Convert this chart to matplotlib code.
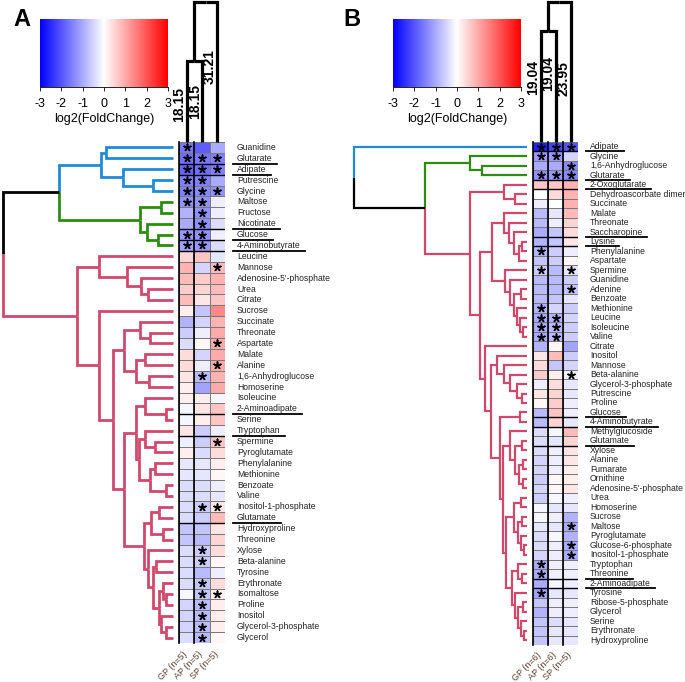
import numpy as np
import matplotlib.pyplot as plt
from matplotlib.colors import LinearSegmentedColormap

plt.rcParams['font.family'] = ['Liberation Sans', 'DejaVu Sans']
plt.rcParams['axes.unicode_minus'] = False

W, H = 685, 682

# ---------------- data: panel A ----------------
cols_a = ['GP (n=5)', 'AP (n=5)', 'SP (n=5)']
rows_a = ['Guanidine', 'Glutarate', 'Adipate', 'Putrescine', 'Glycine', 'Maltose',
          'Fructose', 'Nicotinate', 'Glucose', '4-Aminobutyrate', 'Leucine', 'Mannose',
          "Adenosine-5'-phosphate", 'Urea', 'Citrate', 'Sucrose', 'Succinate', 'Threonate',
          'Aspartate', 'Malate', 'Alanine', '1,6-Anhydroglucose', 'Homoserine', 'Isoleucine',
          '2-Aminoadipate', 'Serine', 'Tryptophan', 'Spermine', 'Pyroglutamate',
          'Phenylalanine', 'Methionine', 'Benzoate', 'Valine', 'Inositol-1-phosphate',
          'Glutamate', 'Hydroxyproline', 'Threonine', 'Xylose', 'Beta-alanine', 'Tyrosine',
          'Erythronate', 'Isomaltose', 'Proline', 'Inositol', 'Glycerol-3-phosphate', 'Glycerol']
gp_a = [-1.6, -1.7, -1.8, -1.5, -1.5, -1.3, -0.9, -1.0, -1.2, -1.1, 0.5, 0.9, 0.8, 0.6, 0.8,
        0.2, -0.9, -0.6, -0.4, 0.4, 0.4, 0.3, 0.2, 0.2, -0.1, -0.1, 0.3, -0.2, 0.2, -0.3, -0.3,
        -0.4, -0.4, -0.4, -0.4, -0.7, -0.7, -0.4, -0.4, -0.4, -0.4, -0.1, -0.5, -0.5, -0.5, -0.4]
ap_a = [-1.9, -1.6, -1.7, -1.5, -1.4, -1.3, -1.3, -1.3, -1.3, -1.2, 0.7, -0.5, 0.6, 0.5, 0.3,
        -0.7, -0.5, -0.2, 0.1, -0.5, -0.2, -0.8, -1.1, 0.2, 0.3, 0.2, -0.6, -0.6, -0.4, -0.3,
        -0.3, -0.4, -0.4, -0.6, -0.6, -0.7, -0.8, -0.6, -0.6, -0.8, -0.7, -0.7, -0.8, -0.8,
        -0.8, -0.8]
sp_a = [-1.0, -1.5, -1.5, -1.0, -1.3, -0.2, -0.2, -0.4, -0.2, -0.4, -0.3, 0.8, 0.9, 0.8, 0.7,
        1.4, 0.9, 1.0, 1.0, 1.0, 1.0, 0.9, 1.0, -0.1, 0.7, 0.7, -0.2, 0.7, 0.4, 0.2, 0.1, -0.2,
        -0.3, 0.3, 0.8, 0.3, 0.5, 0.4, 0.1, -0.2, 0.4, 0.2, 0.2, 0.2, 0.2, 0.1]
# significance stars: GP, AP, SP
sig_a = ['100', '111', '111', '110', '111', '110', '010', '010', '110', '110', '000', '001',
         '000', '000', '000', '000', '000', '000', '001', '000', '001', '010', '000', '000',
         '000', '000', '000', '001', '000', '000', '000', '000', '000', '011', '000', '000',
         '000', '010', '010', '000', '010', '011', '010', '010', '010', '010']
under_a = ['Glutarate', 'Adipate', 'Nicotinate', 'Glucose', '4-Aminobutyrate',
           '2-Aminoadipate', 'Tryptophan', 'Glutamate']
group_a = ['blue'] * 5 + ['green'] * 5 + ['pink'] * 36
# row tree: [left, right, height], leaves are 1-based row numbers
tree_a = [[[[1, 2, 67], [3, [4, 5, 20], 50], 72],
           [[6, 7, 12], [8, [9, 10, 15], 26], 33], 114],
          [[11, [12, [13, [14, 15, 25], 32], 46], 74],
           [16, [[[17, [18, 19, 23], 33], [[20, 21, 28], [22, 23, 24], 37], 49],
                 [[[24, [25, 26, 7], 28],
                   [[27, [28, 29, 18], 28], [[30, 31, 18], [32, 33, 7], 23], 34], 37],
                  [[[34, 35, 14], [36, 37, 10], 22],
                   [38, [[39, 40, 17], [[41, [42, 43, 7], 10], [44, [45, 46, 7], 12], 14], 20],
                    25], 29], 49], 60], 74], 96], 170]
col_tree_a = [[1, 2, 18.15], 3, 31.21]
col_lab_a = ['18.15', '18.15', '31.21']

# ---------------- data: panel B ----------------
cols_b = ['GP (n=6)', 'AP (n=6)', 'SP (n=5)']
rows_b = ['Adipate', 'Glycine', '1,6-Anhydroglucose', 'Glutarate', '2-Oxoglutarate',
          'Dehydroascorbate dimer', 'Succinate', 'Malate', 'Threonate', 'Saccharopine',
          'Lysine', 'Phenylalanine', 'Aspartate', 'Spermine', 'Guanidine', 'Adenine',
          'Benzoate', 'Methionine', 'Leucine', 'Isoleucine', 'Valine', 'Citrate', 'Inositol',
          'Mannose', 'Beta-alanine', 'Glycerol-3-phosphate', 'Putrescine', 'Proline',
          'Glucose', '4-Aminobutyrate', 'Methylglucoside', 'Glutamate', 'Xylose', 'Alanine',
          'Fumarate', 'Ornithine', "Adenosine-5'-phosphate", 'Urea', 'Homoserine', 'Sucrose',
          'Maltose', 'Pyroglutamate', 'Glucose-6-phosphate', 'Inositol-1-phosphate',
          'Tryptophan', 'Threonine', '2-Aminoadipate', 'Tyrosine', 'Ribose-5-phosphate',
          'Glycerol', 'Serine', 'Erythronate', 'Hydroxyproline']
gp_b = [-2.6, -1.2, -1.0, -1.3, 0.7, 0.0, -0.2, -0.8, -0.8, -1.0, -0.9, -0.9, -0.7, -0.6,
        -0.8, -0.8, -0.8, -0.9, -1.0, -1.0, -1.0, -0.9, 0.3, 0.4, 0.6, -0.2, 0.3, 0.1, -0.8,
        -0.8, -0.4, -0.4, -0.4, -0.5, -0.5, -0.6, -0.5, -0.6, -0.1, -0.1, -0.3, -0.4, -0.4,
        -0.5, -1.0, -1.0, -1.0, -1.1, -0.7, -0.9, -0.7, -0.7, -0.7]
ap_b = [-2.2, -1.2, -1.0, -1.2, 0.7, 0.4, 0.0, -0.3, -0.2, -0.7, -0.7, -0.6, -0.6, -0.8,
        -0.8, -0.8, -0.7, -0.5, -0.9, -0.8, -0.8, 0.1, 0.8, -0.7, 0.2, 0.4, 0.5, 0.6, 0.7,
        0.5, -0.1, -0.3, -0.2, -0.2, -0.2, 0.1, 0.1, -0.1, -0.3, -0.2, -0.3, -0.1, -0.2, -0.2,
        -0.2, -0.2, -0.1, -0.3, -0.2, -0.2, -0.4, -0.3, -0.3]
sp_b = [-2.0, -0.5, -1.4, -1.4, 0.9, 0.9, 0.9, 0.8, 0.5, 0.4, 0.3, -0.2, 0.1, -0.3, -0.6,
        -0.7, -0.3, -0.6, -0.5, -0.6, -0.6, -1.1, -0.6, -0.5, -0.2, -0.3, -0.3, -0.2, -0.2,
        -0.3, 0.8, 0.5, 0.3, 0.3, 0.2, 0.2, 0.3, -0.2, -0.3, -0.9, -1.0, -0.9, -1.0, -1.0,
        -0.2, -0.2, -0.2, -0.3, -0.2, -0.2, -0.3, -0.3, -0.3]
sig_b = ['111', '110', '001', '111', '000', '000', '000', '000', '000', '000', '000', '100',
         '000', '101', '000', '001', '000', '100', '110', '110', '110', '000', '000', '000',
         '001', '000', '000', '000', '000', '000', '000', '000', '000', '000', '000', '000',
         '000', '000', '000', '000', '001', '000', '001', '001', '100', '100', '000', '100',
         '000', '000', '000', '000', '000']
under_b = ['Adipate', 'Glutarate', '2-Oxoglutarate', 'Saccharopine', 'Lysine', 'Glucose',
           '4-Aminobutyrate', 'Glutamate', 'Threonine', '2-Aminoadipate']
group_b = ['blue'] + ['green'] * 3 + ['pink'] * 49
tree_b = [1, [[2, [3, 4, 44], 56],
              [[5, [6, 7, 12], 23],
               [[[8, [9, [10, [[11, 12, 5], 13, 8], 13], 18], 23],
                 [14, [15, [[16, 17, 6], [18, [19, [20, 21, 4], 7], 10], 13], 17], 22], 35],
                [22, [[23, [24, [25, [26, [27, 28, 5], 10], 17], 23], 30],
                      [[29, 30, 7],
                       [[31, [[32, 33, 5], [[34, 35, 4], [36, 37, 4], 8], 12], 17],
                        [[[38, 39, 6], [[40, 41, 5], [42, [43, 44, 3], 6], 9], 13],
                         [[45, [46, 47, 5], 9],
                          [48, [[49, 50, 4], [51, [52, 53, 3], 6], 9], 12], 15], 21], 24],
                       27], 36], 42], 46], 56], 101], 171]
col_tree_b = [[1, 2, 19.04], 3, 23.95]
col_lab_b = ['19.04', '19.04', '23.95']

# ---------------- drawing ----------------
branch_colors = {'blue': '#1f8ad8', 'green': '#2b8c10', 'pink': '#d0496d', 'black': 'black'}
cmap = LinearSegmentedColormap.from_list('bwr_r', ['#0000ff', '#ffffff', '#ff0000'])

fig = plt.figure(figsize=(W / 100, H / 100), dpi=100)


def px_axes(x0, y0, x1, y1):
    return fig.add_axes([x0 / W, 1 - y1 / H, (x1 - x0) / W, (y1 - y0) / H])


def draw_tree(ax, node, groups, lw, horizontal=True):
    if isinstance(node, int):
        return node - 0.5, 0.0, branch_colors[groups[node - 1]]
    left, right, h = node
    yl, hl, cl = draw_tree(ax, left, groups, lw, horizontal)
    yr, hr, cr = draw_tree(ax, right, groups, lw, horizontal)
    y = (yl + yr) / 2
    for yc, hc, cc in ((yl, hl, cl), (yr, hr, cr)):
        xs, ys = [h, h, hc], [y, yc, yc]
        if not horizontal:
            xs, ys = ys, xs
        ax.plot(xs, ys, color=cc, lw=lw, solid_capstyle='butt',
                solid_joinstyle='miter', clip_on=False)
    return y, h, (cl if cl == cr else 'black')


def panel(letter, lx, cb_x, dx0, hx0, hx1, top, bottom, rows, gp, ap, sp, sig, under,
          groups, tree, hmax, col_tree, col_lab, lab_y, cols, tree_lw, dark_cols):
    n = len(rows)
    vals = np.column_stack([gp, ap, sp])

    fig.text(lx / W, 1 - 8 / H, letter, fontsize=17, fontweight='bold', va='top')

    # colour key
    cax = px_axes(cb_x, 19, cb_x + 128, 87)
    cax.imshow(np.linspace(-3, 3, 256)[None, :], extent=(-3, 3, 0, 1), aspect='auto',
               cmap=cmap, vmin=-3, vmax=3)
    for s in ('top', 'left', 'right'):
        cax.spines[s].set_visible(False)
    cax.spines['bottom'].set_linewidth(0.6)
    cax.set_yticks([])
    cax.set_xticks(range(-3, 4))
    cax.tick_params(axis='x', length=3, width=0.6, labelsize=9, pad=5)
    cax.set_xlabel('log2(FoldChange)', fontsize=9, labelpad=2)

    # row dendrogram
    dax = px_axes(dx0, top, hx0 - 6, bottom)
    draw_tree(dax, tree, groups, tree_lw)
    dax.set_xlim(hmax, 0)
    dax.set_ylim(n, 0)
    dax.axis('off')

    # heatmap
    ax = px_axes(hx0, top, hx1, bottom)
    ax.pcolormesh(np.arange(4), np.arange(n + 1), vals, cmap=cmap, vmin=-3, vmax=3,
                  edgecolors='#7a7a7a', linewidth=0.5)
    ri, ci = np.nonzero(np.array([[c == '1' for c in s] for s in sig]))
    ax.scatter(ci + 0.5, ri + 0.5, marker=(5, 2, 0), s=26, color='black', linewidths=1.15,
               zorder=3)
    ax.set_xlim(0, 3)
    ax.set_ylim(n, 0)
    ax.axis('off')
    for c in dark_cols:
        ax.plot([c, c], [0, n], color='black', lw=1.2, clip_on=False)
    for r, name in enumerate(rows):
        if name in under:
            ax.plot([0, 3], [r + 1, r + 1], color='black', lw=1.0)

    # column dendrogram
    tax = px_axes(hx0, 2, hx1, top)
    draw_tree(tax, col_tree, ['black'] * 3, 2.3, horizontal=False)
    tax.set_xlim(0, 3)
    tax.set_ylim(0, col_tree[2])
    tax.axis('off')
    for i, t in enumerate(col_lab):
        tax.text(i + 0.5 - 0.47, lab_y[i] * col_tree[2], t, rotation=90, ha='center',
                 va='center', fontsize=10, fontweight='bold')

    # row labels
    renderer = fig.canvas.get_renderer()
    for r, name in enumerate(rows):
        t = ax.text(3 + 12 / (hx1 - hx0) * 3, r + 0.5, name, fontsize=6.2, va='center',
                    ha='left', color='#222222', clip_on=False)
        if name in under:
            bb = t.get_window_extent(renderer=renderer)
            x_end = ax.transData.inverted().transform((bb.x1 + 4, 0))[0]
            x_start = 3 + 8 / (hx1 - hx0) * 3
            ax.plot([x_start, x_end], [r + 1, r + 1], color='black', lw=1.3, clip_on=False)

    # column labels
    for i, c in enumerate(cols):
        ax.text(i + 0.45, n + 0.9, c, rotation=45, rotation_mode='anchor', ha='right',
                va='center', fontsize=6.5, color='#5a4030')


panel('A', 13, 40, 2, 179, 225, 142, 643, rows_a, gp_a, ap_a, sp_a, sig_a, under_a,
      group_a, tree_a, 171, col_tree_a, col_lab_a, [0.27, 0.29, 0.54], cols_a, 2.0, [0, 1])
panel('B', 343, 393, 354, 533, 578, 142, 645, rows_b, gp_b, ap_b, sp_b, sig_b, under_b,
      group_b, tree_b, 171, col_tree_b, col_lab_b, [0.46, 0.49, 0.45], cols_b, 1.6,
      [0, 1, 2])

fig.savefig('out.png', dpi=100)
